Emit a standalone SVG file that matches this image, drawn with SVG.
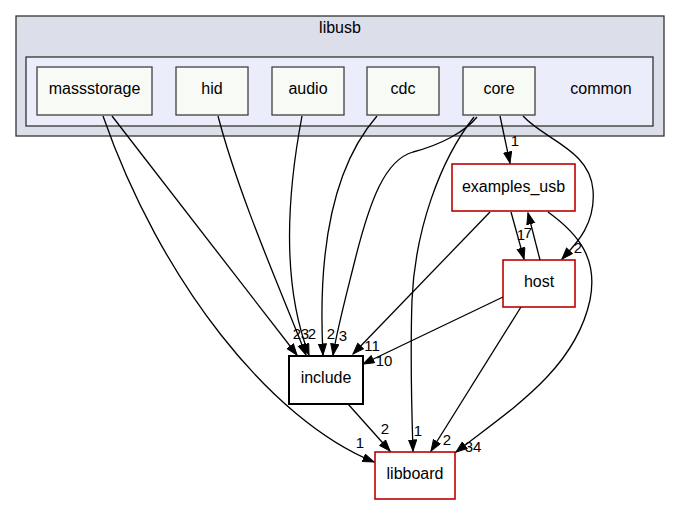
<svg xmlns="http://www.w3.org/2000/svg" width="680" height="505" viewBox="0 0 680 505">
  <style>
    text { font-family: "Liberation Sans", Arial, sans-serif; font-size: 16px; fill: #000; }
    .lbl { text-anchor: middle; }
    .cl-outer { fill: #dcdeea; stroke: #333; stroke-width: 1.3; }
    .cl-inner { fill: #ecedfb; stroke: #333; stroke-width: 1.3; }
    .dir { fill: #f8faf6; stroke: #404040; stroke-width: 1.3; }
    .ext { fill: #fff; stroke: #bf0000; stroke-width: 1.6; }
    .inc { fill: #fff; stroke: #000; stroke-width: 2; }
    .edge { fill: none; stroke: #000; stroke-width: 1.3; marker-end: url(#arrow); }
    .elbl { font-size: 15px; text-anchor: middle; fill: #000; }
  </style>
  <defs>
    <marker id="arrow" markerUnits="userSpaceOnUse" markerWidth="13" markerHeight="10" refX="11.5" refY="4.5" orient="auto">
      <path d="M0.5,0.5 L11.5,4.5 L0.5,8.5 z" fill="#000" stroke="#000" stroke-width="1"/>
    </marker>
  </defs>

  <!-- directory clusters -->
  <g id="cluster_libusb">
    <rect class="cl-outer" x="16" y="16" width="648" height="120"/>
    <text class="lbl" x="340" y="33">libusb</text>
  </g>
  <g id="cluster_common">
    <rect class="cl-inner" x="26" y="57" width="627" height="69"/>
    <text class="lbl" x="601" y="94">common</text>
  </g>

  <!-- sub-directories of common -->
  <g id="node_massstorage">
    <rect class="dir" x="37" y="67" width="115" height="48"/>
    <text class="lbl" x="94.5" y="94">massstorage</text>
  </g>
  <g id="node_hid">
    <rect class="dir" x="176" y="67" width="72" height="48"/>
    <text class="lbl" x="212" y="94">hid</text>
  </g>
  <g id="node_audio">
    <rect class="dir" x="272" y="67" width="72" height="48"/>
    <text class="lbl" x="308" y="94">audio</text>
  </g>
  <g id="node_cdc">
    <rect class="dir" x="367" y="67" width="72" height="48"/>
    <text class="lbl" x="403" y="94">cdc</text>
  </g>
  <g id="node_core">
    <rect class="dir" x="463" y="67" width="72" height="48"/>
    <text class="lbl" x="499" y="94">core</text>
  </g>

  <!-- external directories -->
  <g id="node_examples_usb">
    <rect class="ext" x="452" y="164" width="123" height="47"/>
    <text class="lbl" x="513.5" y="192">examples_usb</text>
  </g>
  <g id="node_host">
    <rect class="ext" x="503" y="260" width="72" height="47"/>
    <text class="lbl" x="539" y="287">host</text>
  </g>
  <g id="node_include">
    <rect class="inc" x="289" y="356" width="74" height="48"/>
    <text class="lbl" x="326" y="383">include</text>
  </g>
  <g id="node_libboard">
    <rect class="ext" x="375" y="452" width="80" height="47"/>
    <text class="lbl" x="415" y="479">libboard</text>
  </g>

  <!-- dependency edges -->
  <g id="edges">
    <path class="edge" d="M112,116 L297,355"/>
    <path class="edge" d="M103,116 C160,280 270,420 374,462"/>
    <path class="edge" d="M218,116 C240,200 285,300 306,355"/>
    <path class="edge" d="M302,116 C288,190 280,280 309,355"/>
    <path class="edge" d="M377,116 C330,170 318,260 323,355"/>
    <path class="edge" d="M477,117 C465,132 440,145 413,152 C385,160 370,200 355,260 C345,300 337,330 333,355"/>
    <path class="edge" d="M474,117 C440,160 415,230 412,300 C410,360 412,420 413,451"/>
    <path class="edge" d="M500,116 L510,163"/>
    <path class="edge" d="M523,116 C545,140 590,150 593,190 C596,225 575,245 562,259"/>
    <path class="edge" d="M490,212 L353,354"/>
    <path class="edge" d="M511,212 L524,259"/>
    <path class="edge" d="M540,260 L528,213"/>
    <path class="edge" d="M548,212 C580,235 598,260 590,300 C575,370 510,410 456,452"/>
    <path class="edge" d="M503,297 L363,364"/>
    <path class="edge" d="M521,307 L431,451"/>
    <path class="edge" d="M348,404 L390,451"/>

    <text class="elbl" x="297" y="339">2</text>
    <text class="elbl" x="305" y="339">3</text>
    <text class="elbl" x="312" y="339">2</text>
    <text class="elbl" x="331" y="339">2</text>
    <text class="elbl" x="343" y="341">3</text>
    <text class="elbl" x="372" y="351">11</text>
    <text class="elbl" x="384" y="366">10</text>
    <text class="elbl" x="515" y="146">1</text>
    <text class="elbl" x="578" y="253">2</text>
    <text class="elbl" x="521" y="240">1</text>
    <text class="elbl" x="528" y="238">7</text>
    <text class="elbl" x="385" y="434">2</text>
    <text class="elbl" x="360" y="448">1</text>
    <text class="elbl" x="418" y="436">1</text>
    <text class="elbl" x="447" y="445">2</text>
    <text class="elbl" x="473" y="452">34</text>
  </g>
</svg>
